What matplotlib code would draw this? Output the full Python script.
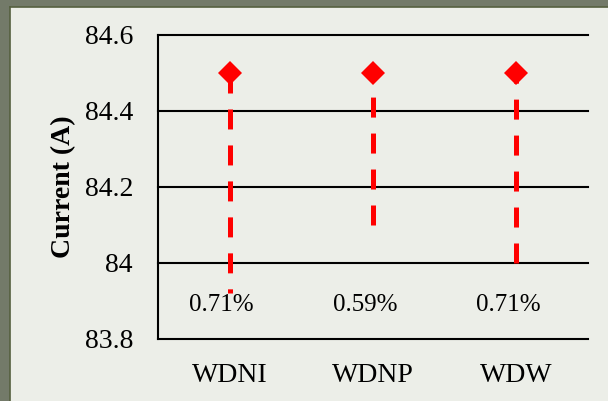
import matplotlib
matplotlib.use("Agg")
import matplotlib.pyplot as plt

categories = ["WDNI", "WDNP", "WDW"]
mean_current = [84.5, 84.5, 84.5]
lower_current = [83.92, 84.10, 84.00]
pct_labels = ["0.71%", "0.59%", "0.71%"]
y_ticks = [83.8, 84.0, 84.2, 84.4, 84.6]
y_tick_labels = ["83.8", "84", "84.2", "84.4", "84.6"]

plt.rcParams['font.family'] = ['Liberation Serif', 'DejaVu Serif']
plt.rcParams['lines.scale_dashes'] = False

fig = plt.figure(figsize=(6.08, 4.01), dpi=100)
fig.patch.set_facecolor('#737a69')

bg = fig.add_axes([10/608, -0.01, 1.0, 1 - 7/401 + 0.01], zorder=0)
bg.set_facecolor('#eceee8')
bg.set_xticks([])
bg.set_yticks([])
for s in bg.spines.values():
    s.set_color('#55603f')
    s.set_linewidth(1.2)

ax = fig.add_axes([158/608, 1 - 339/401, (588-158)/608, (339-35)/401], zorder=1)
ax.set_facecolor('none')

x = list(range(len(categories)))
ax.set_xlim(-0.5, len(categories) - 0.5)
ax.set_ylim(y_ticks[0], y_ticks[-1])

for yv in y_ticks[1:]:
    ax.axhline(yv, color='black', lw=1.5, zorder=1, clip_on=False)

for i, xi in enumerate(x):
    if i == 0:
        ys = [mean_current[i], lower_current[i]]
    else:
        ys = [lower_current[i], mean_current[i]]
    ax.plot([xi, xi], ys, color='#ff0000', lw=3.6,
            linestyle=(0, (14.4, 11.5)), solid_capstyle='butt',
            dash_capstyle='butt', zorder=2)

ax.plot(x, mean_current, linestyle='none', marker='D', markersize=12.7,
        color='#ff0000', markeredgewidth=0, zorder=3)

for xi, lab in zip(x, pct_labels):
    ax.text(xi - 0.055, 83.89, lab, ha='center', va='center', fontsize=18, zorder=4)

for s in ['top', 'right']:
    ax.spines[s].set_visible(False)
ax.spines['left'].set_linewidth(1.5)
ax.spines['bottom'].set_linewidth(1.5)

ax.set_yticks(y_ticks)
ax.set_yticklabels(y_tick_labels, fontsize=20)
ax.set_xticks(x)
ax.set_xticklabels(categories, fontsize=20)
ax.tick_params(axis='both', length=0)
ax.tick_params(axis='y', pad=18)
ax.tick_params(axis='x', pad=17)
ax.set_ylabel("Current (A)", fontsize=20, fontweight='bold', labelpad=6)

fig.savefig("out.png", dpi=100, facecolor=fig.get_facecolor())
